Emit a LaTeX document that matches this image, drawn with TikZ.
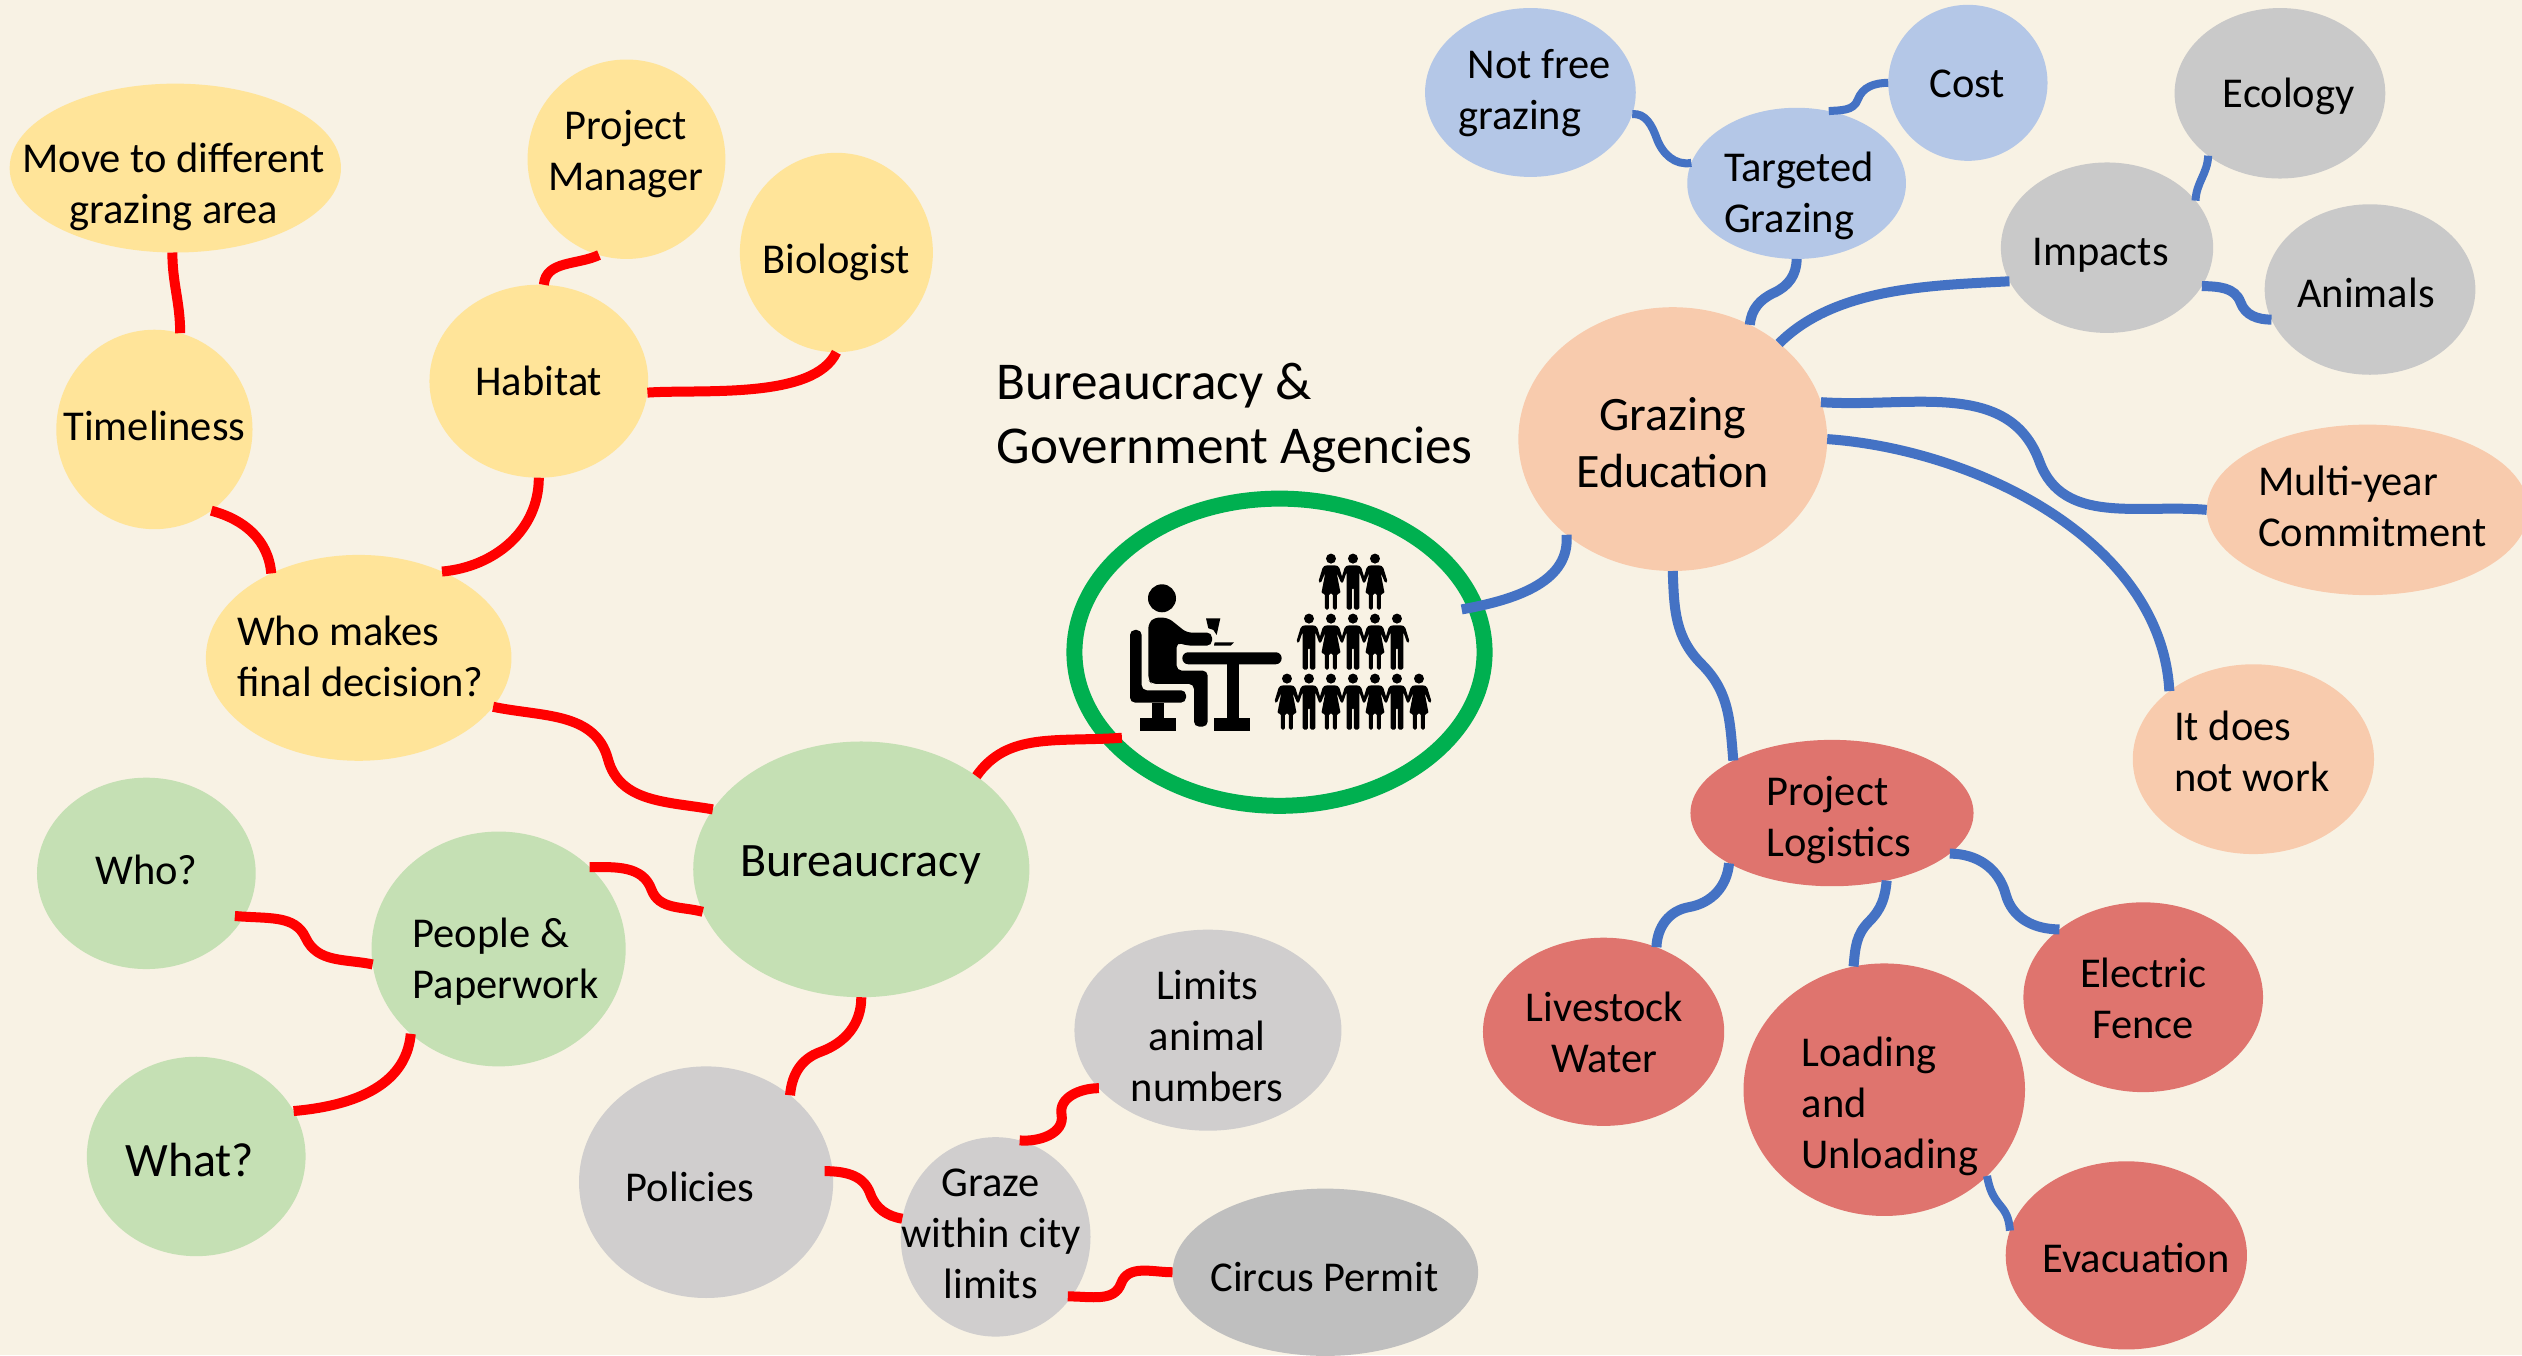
\documentclass[tikz,border=0pt]{standalone}
\usepackage{fontspec}
\setmainfont{Carlito}
\usetikzlibrary{shapes.geometric}
\definecolor{bgc}{HTML}{F8F2E4}
\definecolor{yel}{HTML}{FFE499}
\definecolor{grn}{HTML}{C5E0B4}
\definecolor{lil}{HTML}{D0CECE}
\definecolor{dgr}{HTML}{BFBFBF}
\definecolor{pch}{HTML}{F8CBAD}
\definecolor{blu}{HTML}{B4C7E7}
\definecolor{gry}{HTML}{C9C9C9}
\definecolor{rsd}{HTML}{DF746E}
\definecolor{ringc}{HTML}{00B050}
\definecolor{bluec}{HTML}{4472C4}
\tikzset{
  bubble/.style={ellipse,inner sep=0pt,outer sep=0pt,draw=none},
  txt/.style={inner sep=0pt,align=center,font=\fontsize{42.5}{51}\selectfont,text=black},
  tl/.style={align=left},
  bigf/.style={font=\fontsize{48}{57}\selectfont},
  redline/.style={draw=red,line width=10pt},
  blueline/.style={draw=bluec,line width=10pt},
  bluethin/.style={draw=bluec,line width=8pt}
}
\newcommand{\bub}[8][]{%
  \node[bubble,fill=#3,minimum width={2*#5*1.6084pt},minimum height={2*#6*1.6084pt}] (#2) at (#4) {};
  \node[txt,#1] (#2-t) at (#7) {#8}}
\newcommand{\manfig}[2]{\fill[shift={(#1,#2)},rounded corners=1.5pt] (-14,20) -- (14,20) -- (24,24) -- (38,70) -- (31,74) -- (19,40) -- (19,153) -- (3,153) -- (3,88) -- (-3,88) -- (-3,153) -- (-19,153) -- (-19,40) -- (-31,74) -- (-38,70) -- (-24,24) -- cycle;
  \fill (#1,#2) circle (15);}
\newcommand{\womanfig}[2]{\fill[shift={(#1,#2)},rounded corners=1.5pt] (-14,20) -- (14,20) -- (24,24) -- (38,70) -- (31,74) -- (17,42) -- (29,105) -- (18,105) -- (18,153) -- (6,153) -- (6,105) -- (-6,105) -- (-6,153) -- (-18,153) -- (-18,105) -- (-29,105) -- (-17,42) -- (-31,74) -- (-38,70) -- (-24,24) -- cycle;
  \fill (#1,#2) circle (15);}
\begin{document}
\begin{tikzpicture}[x=1.6084pt,y=-1.6084pt]
\clip (0,0) rectangle (1568,842.45);
\fill[bgc] (0,0) rectangle (1568,842.45);
% yellow
\bub{move}{yel}{109,104.5}{103}{52.5}{108,116}{Move to different\\grazing area};
\bub{pm}{yel}{389.5,99}{61.5}{62}{389,96}{Project\\Manager};
\bub{bio}{yel}{520,157}{60}{62}{520,163}{Biologist};
\bub{hab}{yel}{335,237}{68}{60}{335,237}{Habitat};
\bub{time}{yel}{96,267}{61}{62}{96,265}{Timeliness};
\bub[tl]{who}{yel}{223,409}{95}{64}{224,408}{Who makes\\final decision?};
% green
\bub[bigf]{bur}{grn}{535.5,540.5}{104.5}{79.5}{535,538}{Bureaucracy};
\bub{whoq}{grn}{91,543}{68}{59.5}{91,541}{Who?};
\bub[tl]{pp}{grn}{310,590}{79}{73}{314.5,598}{People \&\\Paperwork};
\bub[bigf]{what}{grn}{122,719}{68}{62}{118,721}{What?};
% lilac
\bub{pol}{lil}{439,735}{79}{72}{429,738}{Policies};
\bub{lim}{lil}{751,640.5}{83}{62.5}{750.5,644}{Limits\\animal\\numbers};
\bub{gr}{lil}{619,769}{59}{62}{616,767}{Graze\\within city\\limits};
\bub{cir}{dgr}{824,791}{95}{52}{823.5,794}{Circus Permit};
% peach
\bub[bigf]{ge}{pch}{1040,273}{96}{82}{1040,275}{Grazing\\Education};
\bub[tl]{multi}{pch}{1472,317}{100}{53}{1475,315}{Multi-year\\Commitment};
\bub[tl]{itd}{pch}{1401,472}{75}{59}{1400,467}{It does\\not work};
% blue
\bub[tl]{nf}{blu}{951.5,57.5}{65.5}{52.5}{954,58}{\hspace*{9.5pt}Not free\\grazing};
\bub[tl]{tg}{blu}{1117,114}{68}{47}{1118.5,122}{Targeted\\Grazing};
\bub{cost}{blu}{1223.5,51.5}{49.5}{48.5}{1223,52}{Cost};
% grey
\bub{eco}{gry}{1417.5,58}{65.5}{53}{1423,60}{Ecology};
\bub{imp}{gry}{1310,154}{66}{53}{1306,159}{Impacts};
\bub{ani}{gry}{1473.5,180}{65.5}{53}{1471,182}{Animals};
% rose
\bub[tl]{pl}{rsd}{1139,505.5}{88}{45.5}{1143,510}{Project\\Logistics};
\bub{live}{rsd}{997,641.5}{75}{58.5}{997.5,642}{Livestock\\Water};
\bub[tl]{load}{rsd}{1171.5,677.5}{87.5}{78.5}{1175,688}{Loading\\and\\Unloading};
\bub{elec}{rsd}{1332.5,620}{74.5}{59}{1332.5,621}{Electric\\Fence};
\bub{evac}{rsd}{1322,780.5}{75}{58.5}{1328,782}{Evacuation};
% ring
\node[ellipse,draw=ringc,line width=16pt,inner sep=0pt,outer sep=0pt,minimum width={2*127.5*1.6084pt},minimum height={2*95.5*1.6084pt}] (ring) at (795.5,405.5) {};
% title
\node[txt,tl,anchor=west,font=\fontsize{53.2}{64}\selectfont] (title) at (619.5,260) {Bureaucracy \&\\Government Agencies};
% icon
\begin{scope}[shift={(646.6,298.4)},x=0.3333pt,y=-0.3333pt]
\fill (366,355) circle (42);
\fill[rounded corners=5pt] (325,600) -- (325,430) -- (345,412) -- (385,414) -- (440,458) -- (516,458) -- (516,497) -- (440,497) -- (410,487) -- (410,572) -- (503,572) -- (503,740) -- (462,740) -- (462,612) -- (335,612) -- cycle;
\fill[rounded corners=5pt] (270,450) -- (305,450) -- (305,631) -- (438,631) -- (438,668) -- (270,668) -- cycle;
\fill (336,668) rectangle (373,716);
\fill (300,715) rectangle (408,752);
\fill[rounded corners=5.9pt] (427,517) rectangle (725,553);
\fill (560,553) rectangle (597,716);
\fill (522,715) rectangle (630,752);
\fill (498,415) -- (541,415) -- (530,465) -- (520,450) -- (505,445) -- cycle;
\fill (524,487) -- (582,487) -- (572,497) -- (522,497) -- cycle;
\womanfig{873}{236}\manfig{939}{236}\womanfig{1005}{236}
\manfig{807}{416}\womanfig{873}{416}\manfig{939}{416}\womanfig{1005}{416}\manfig{1071}{416}
\womanfig{741}{596}\manfig{807}{596}\womanfig{873}{596}\manfig{939}{596}\womanfig{1005}{596}\manfig{1071}{596}\womanfig{1137}{596}
\end{scope}
% red connectors
\draw[redline,shorten >=-12pt] (bur.39) to[out=55,in=184] (ring.207);
\draw[redline] (bur.158) to[out=170,in=-75] (378,472) to[out=105,in=-12] (who.340);
\draw[redline] (who.46) to[out=5,in=-90] (hab.270);
\draw[redline] (who.136) to[out=95,in=-15] (time.305);
\draw[redline] (time.75) to[out=90,in=-90] (move.268);
\draw[redline] (hab.87) to[out=85,in=205] (pm.254);
\draw[redline,looseness=.7] (hab.354) to[out=4,in=-115] (bio.270);
\draw[redline] (bur.195) to[out=165,in=-70] (405,553) to[out=110,in=0] (pp.42);
\draw[redline,shorten >=-9pt] (pp.187) to[out=168,in=-65] (190,583) to[out=115,in=-5] (whoq.336);
\draw[redline] (pp.224) to[out=-95,in=5] (what.25);
\draw[redline] (bur.270) to[out=-90,in=20] (510,654) to[out=200,in=85] (pol.46);
\draw[redline,shorten <=-8pt] (pol.5) to[out=0,in=110] (541,742) to[out=-70,in=170] (gr.169);
\draw[redline] (gr.76) to[out=-5,in=-80] (660,693) to[out=100,in=180] (lim.208);
\draw[redline,shorten <=-4pt] (gr.322) to[out=0,in=-110] (697,798) to[out=70,in=180] (cir.180);
% blue connectors
\draw[blueline,shorten <=-14pt] (ring.13) to[out=10,in=-85] (ge.222);
\draw[blueline] (ge.270) to[out=-88,in=135] (1058,413) to[out=-45,in=95] (pl.152);
\draw[blueline] (pl.206) to[out=-95,in=10] (1050,564) to[out=190,in=88] (live.58);
\draw[blueline] (pl.309) to[out=-95,in=45] (1162,573) to[out=225,in=85] (load.104);
\draw[blueline] (pl.341) to[out=0,in=105] (1247,556) to[out=-75,in=180] (elec.141);
\draw[bluethin] (load.320) to[out=-80,in=130] (1244,750) to[out=-50,in=95] (evac.168);
\draw[blueline] (ge.56) to[out=85,in=205] (1103,182) to[out=25,in=-90] (tg.270);
\draw[bluethin] (tg.169) to[out=190,in=-70] (1030,86) to[out=110,in=5] (nf.348);
\draw[bluethin] (tg.66) to[out=5,in=-110] (1155,62) to[out=70,in=180] (cost.180);
\draw[blueline,looseness=.85] (ge.42) to[out=45,in=183] (imp.199);
\draw[bluethin] (imp.28) to[out=88,in=-92] (eco.221);
\draw[blueline] (imp.338) to[out=-2,in=110] (1393,188) to[out=-70,in=180] (ani.197);
\draw[blueline] (ge.14) to[out=-4,in=110] (1268,287) to[out=-70,in=175] (multi.180);
\draw[blueline,looseness=.9] (ge.0) to[out=-4,in=93] (itd.141);
\end{tikzpicture}
\end{document}
